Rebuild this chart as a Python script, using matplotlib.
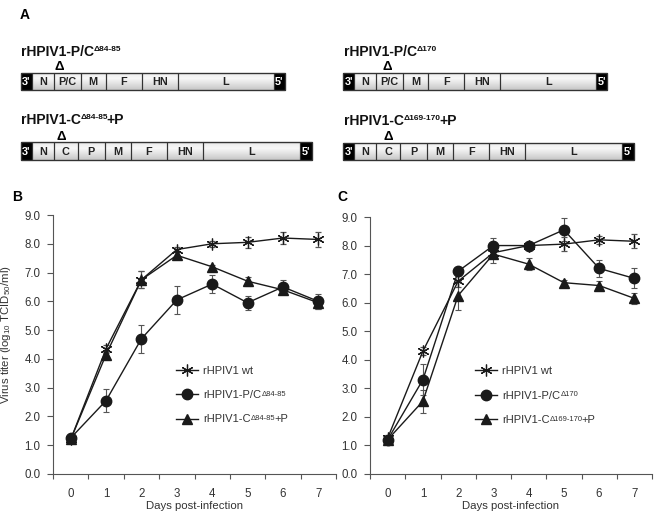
import matplotlib.pyplot as plt
import numpy as np
from matplotlib.patches import Rectangle
from matplotlib.lines import Line2D

plt.rcParams['font.family'] = ['Liberation Sans', 'DejaVu Sans']
plt.rcParams['mathtext.fontset'] = 'custom'
plt.rcParams['mathtext.rm'] = 'Liberation Sans'
plt.rcParams['mathtext.default'] = 'regular'

# ---- growth curve data (log10 TCID50/ml) ----
days = [0, 1, 2, 3, 4, 5, 6, 7]

b_wt = [1.20, 4.35, 6.75, 7.80, 8.00, 8.05, 8.20, 8.15]
b_wt_err = [0.10, 0.15, 0.30, 0.10, 0.10, 0.20, 0.20, 0.25]
b_pc = [1.25, 2.55, 4.70, 6.05, 6.60, 5.95, 6.50, 6.00]
b_pc_err = [0.10, 0.40, 0.48, 0.48, 0.30, 0.25, 0.25, 0.25]
b_cp = [1.20, 4.15, 6.75, 7.60, 7.20, 6.70, 6.40, 5.95]
b_cp_err = [0.10, 0.10, 0.30, 0.10, 0.05, 0.15, 0.15, 0.20]

c_wt = [1.25, 4.30, 6.75, 7.75, 8.00, 8.05, 8.20, 8.15]
c_wt_err = [0.10, 0.15, 0.20, 0.10, 0.10, 0.25, 0.15, 0.25]
c_pc = [1.20, 3.30, 7.10, 8.00, 8.00, 8.55, 7.20, 6.85]
c_pc_err = [0.10, 0.55, 0.10, 0.25, 0.10, 0.40, 0.30, 0.35]
c_cp = [1.20, 2.55, 6.25, 7.70, 7.35, 6.70, 6.60, 6.15]
c_cp_err = [0.10, 0.40, 0.50, 0.30, 0.20, 0.10, 0.15, 0.20]

# (main text, superscript, tail)
b_labels = [('rHPIV1 wt', '', ''), ('rHPIV1-P/C', '\u039484-85', ''), ('rHPIV1-C', '\u039484-85', '+P')]
c_labels = [('rHPIV1 wt', '', ''), ('rHPIV1-P/C', '\u0394170', ''), ('rHPIV1-C', '\u0394169-170', '+P')]

# ---- genome maps ----
genes_pc = ["3'", 'N', 'P/C', 'M', 'F', 'HN', 'L', "5'"]
widths_pc = [11, 22, 27, 25, 36, 36, 96, 11]
genes_cp = ["3'", 'N', 'C', 'P', 'M', 'F', 'HN', 'L', "5'"]
widths_cp = [11, 22, 24, 27, 26, 36, 36, 97, 12]

fig = plt.figure(figsize=(6.62, 5.2), dpi=100)

# panel A drawn in pixel units
axA = fig.add_axes([0, 0, 1, 1])
axA.set_zorder(-1)
grad = np.interp(np.linspace(0, 1, 50), [0, 0.1, 0.35, 1], [0.80, 0.93, 0.97, 0.78]).reshape(-1, 1)


def draw_genome(ax, x0, y0, genes, widths, h=17.5):
    total = sum(widths)
    frame = Rectangle((x0, y0), total, h, fill=False, ec='#333333', lw=0.9, zorder=4)
    ax.add_patch(frame)
    im = ax.imshow(grad, cmap='gray', vmin=0, vmax=1, extent=(x0, x0 + total, y0 + h, y0),
                   aspect='auto', zorder=1)
    im.set_clip_path(frame)
    x = x0
    for g, w in zip(genes, widths):
        end = g in ("3'", "5'")
        ax.add_patch(Rectangle((x, y0), w, h, fill=end, fc='black', ec='#333333', lw=0.8, zorder=3))
        ax.text(x + w / 2, y0 + h / 2 + 0.5, g, color='white' if end else '#222222',
                fontsize=7.8, fontweight='bold', ha='center', va='center', zorder=5)
        x += w


def add_sup(ax, t, sup, tail, size, sup_size, weight):
    # superscript (and optional tail) glued to the end of text t
    if not sup:
        return
    s = ax.annotate(sup, xy=(1, 0.93), xycoords=t, fontsize=sup_size, fontweight=weight,
                    va='top', ha='left', color=t.get_color(), zorder=7)
    if tail:
        ax.annotate(tail, xy=(1, 0), xycoords=(s, t), xytext=(-1, 0), textcoords='offset points',
                    fontsize=size, fontweight=weight, va='bottom', ha='left',
                    color=t.get_color(), zorder=8)


def title(ax, x, y, main, sup, tail=''):
    t = ax.text(x, y, main, fontsize=10, fontweight='bold', va='baseline', ha='left', color='#111111')
    add_sup(ax, t, sup, tail, 10, 6, 'bold')


draw_genome(axA, 20.7, 72.7, genes_pc, widths_pc)
draw_genome(axA, 20.7, 142.3, genes_cp, widths_cp)
draw_genome(axA, 343.3, 72.7, genes_pc, widths_pc)
draw_genome(axA, 343.3, 142.7, genes_cp, widths_cp)

title(axA, 20.7, 56, 'rHPIV1-P/C', '\u039484-85')
title(axA, 20.7, 124.5, 'rHPIV1-C', '\u039484-85', '+P')
title(axA, 344, 56.5, 'rHPIV1-P/C', '\u0394170')
title(axA, 344, 125, 'rHPIV1-C', '\u0394169-170', '+P')

for dx, dy in [(59, 67.5), (61, 136.7), (387.3, 67.5), (388.3, 137)]:
    axA.text(dx, dy, '\u0394', fontsize=9.5, fontweight='bold', ha='center', va='center')

axA.text(20, 15, 'A', fontsize=10, fontweight='bold', ha='left', va='center')
axA.text(12, 197, 'B', fontsize=10, fontweight='bold', ha='left', va='center')
axA.text(337, 197, 'C', fontsize=10, fontweight='bold', ha='left', va='center')
axA.set_xlim(0, 662)
axA.set_ylim(520, 0)
axA.axis('off')

# ---- growth curves ----
axB = fig.add_axes([53 / 662, 46 / 520, 283 / 662, 259 / 520])
axC = fig.add_axes([370 / 662, 46 / 520, 282 / 662, 257 / 520])

styles = [dict(marker=(6, 2, 0), ms=8.5, mew=0.9, mfc='none'),
          dict(marker='o', ms=7.5),
          dict(marker='^', ms=7.5)]


def growth(ax, series, labels, legend_x):
    handles = []
    for (vals, err), st, lab in zip(series, styles, labels):
        ax.errorbar(days, vals, yerr=err, color='#1a1a1a', ecolor='#555555', elinewidth=0.8,
                    capsize=2.5, capthick=0.8, lw=1.0, mec='#1a1a1a', **st)
        handles.append(Line2D([], [], color='#1a1a1a', lw=1.0, mec='#1a1a1a', label=lab[0], **st))
    ax.set_xlim(-0.5, 7.5)
    ax.set_ylim(0, 9)
    ax.set_yticks(np.arange(0, 10, 1))
    ax.set_yticklabels([f'{v:.1f}' for v in range(10)])
    ax.set_xticks(days)
    ax.set_xticks(np.arange(-0.5, 8, 1), minor=True)
    ax.tick_params(axis='x', which='major', length=0, pad=10, labelsize=8.3, labelcolor='#333333')
    ax.tick_params(axis='x', which='minor', length=3.5, direction='out', color='#555555', width=0.8)
    ax.tick_params(axis='y', length=4, direction='out', color='#555555', width=0.8,
                   pad=5, labelsize=8.3, labelcolor='#333333')
    for s in ['top', 'right']:
        ax.spines[s].set_visible(False)
    for s in ['left', 'bottom']:
        ax.spines[s].set_color('#555555')
        ax.spines[s].set_linewidth(0.8)
    ax.set_xlabel('Days post-infection', fontsize=8.2, color='#333333', labelpad=1)
    leg = ax.legend(handles=handles, loc='center left', bbox_to_anchor=(legend_x, 0.305),
                    frameon=False, fontsize=8, handlelength=2.0, handletextpad=0.45,
                    labelspacing=1.3, borderpad=0, borderaxespad=0, labelcolor='#333333')
    for t, lab in zip(leg.get_texts(), labels):
        add_sup(ax, t, lab[1], lab[2], 8, 5.5, 'normal')


growth(axB, [(b_wt, b_wt_err), (b_pc, b_pc_err), (b_cp, b_cp_err)], b_labels, 0.435)
growth(axC, [(c_wt, c_wt_err), (c_pc, c_pc_err), (c_cp, c_cp_err)], c_labels, 0.372)

axB.set_ylabel('Virus titer (log$_{10}$ TCID$_{50}$/ml)', fontsize=8.2, color='#333333')
axB.yaxis.set_label_coords(-0.142, 0.537)

fig.savefig('out.png', dpi=100)
